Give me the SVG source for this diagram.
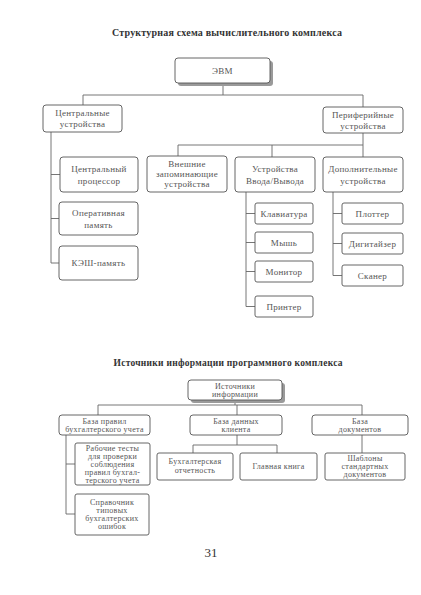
<svg xmlns="http://www.w3.org/2000/svg" width="421" height="595" viewBox="0 0 421 595">
<style>
.b{fill:#fff;stroke:#555;stroke-width:0.9}
.sh{fill:#9a9a9a}
.t{font-family:"Liberation Serif","DejaVu Serif",serif;font-size:9px;fill:#555;text-anchor:middle;letter-spacing:0.3px}
.s{font-family:"Liberation Serif","DejaVu Serif",serif;font-size:8px;fill:#555;text-anchor:middle;letter-spacing:0.3px}
.h{font-family:"Liberation Serif","DejaVu Serif",serif;font-weight:bold;fill:#333;text-anchor:middle}
#c path{fill:none;stroke:#666;stroke-width:0.9}
</style>
<rect width="421" height="595" fill="#fff"/>
<text class="h" x="227" y="36" font-size="10" textLength="230" lengthAdjust="spacing">Структурная схема вычислительного комплекса</text>
<text class="h" x="228" y="366" font-size="9.5" textLength="229" lengthAdjust="spacing">Источники информации программного комплекса</text>
<text x="211" y="557" font-family="Liberation Serif,serif" font-size="13" fill="#333" text-anchor="middle">31</text>
<g id="c">
<path d="M223 83V95M83 95H363M83 95V105M363 95V107"/>
<path d="M51 132V263M51 174.5H60M51 218.5H59M51 263H59"/>
<path d="M363 133V145M178 145H363M178 145V156M272 145V157M363 145V157"/>
<path d="M246 192V306.5M246 213.5H255M246 242.5H255M246 271.5H255M246 306.5H255"/>
<path d="M333 192V275.5M333 213.5H342M333 243.5H342M333 275.5H342"/>
<path d="M235 400V405M98 405H362M98 405V415M237 405V415M362 405V415"/>
<path d="M66 435V514M66 464H75M66 514H75"/>
<path d="M237 435V445M193 445H277M193 445V453M277 445V453"/>
<path d="M362 435V453"/>
</g>
<g id="evm"><rect class="sh" x="178" y="61" width="95" height="25" rx="3"/><rect class="b" x="175" y="58" width="95" height="25" rx="3"/><text class="t" x="222.5" y="74">ЭВМ</text></g>
<g id="central"><rect class="b" x="43" y="105" width="79" height="27" rx="3"/><text class="t" x="82.5" y="116">Центральные</text><text class="t" x="82.5" y="127">устройства</text></g>
<g id="periph"><rect class="b" x="323" y="107" width="80" height="26" rx="3"/><text class="t" x="363" y="118">Периферийные</text><text class="t" x="363" y="129">устройства</text></g>
<g id="cpu"><rect class="b" x="60" y="157" width="78" height="35" rx="3"/><text class="t" x="99" y="172">Центральный</text><text class="t" x="99" y="184">процессор</text></g>
<g id="ram"><rect class="b" x="59" y="202" width="79" height="33" rx="3"/><text class="t" x="98.5" y="216">Оперативная</text><text class="t" x="98.5" y="228">память</text></g>
<g id="cache"><rect class="b" x="59" y="246" width="79" height="34" rx="3"/><text class="t" x="98.5" y="266">КЭШ-память</text></g>
<g id="ext"><rect class="b" x="147" y="156" width="80" height="36" rx="3"/><text class="t" x="187" y="167">Внешние</text><text class="t" x="187" y="177">запоминающие</text><text class="t" x="187" y="187">устройства</text></g>
<g id="io"><rect class="b" x="235" y="157" width="80" height="35" rx="3"/><text class="t" x="275" y="172">Устройства</text><text class="t" x="275" y="184">Ввода/Вывода</text></g>
<g id="add"><rect class="b" x="323" y="157" width="80" height="35" rx="3"/><text class="t" x="363" y="172">Дополнительные</text><text class="t" x="363" y="184">устройства</text></g>
<g id="kbd"><rect class="b" x="255" y="203" width="58" height="21" rx="2"/><text class="t" x="284" y="216.5">Клавиатура</text></g>
<g id="mouse"><rect class="b" x="255" y="232" width="58" height="21" rx="2"/><text class="t" x="284" y="245.5">Мышь</text></g>
<g id="mon"><rect class="b" x="255" y="261" width="58" height="21" rx="2"/><text class="t" x="284" y="274.5">Монитор</text></g>
<g id="prn"><rect class="b" x="255" y="296" width="58" height="21" rx="2"/><text class="t" x="284" y="309.5">Принтер</text></g>
<g id="plot"><rect class="b" x="342" y="203" width="61" height="21" rx="2"/><text class="t" x="372.5" y="216.5">Плоттер</text></g>
<g id="dig"><rect class="b" x="342" y="233" width="61" height="21" rx="2"/><text class="t" x="372.5" y="246.5">Дигитайзер</text></g>
<g id="scan"><rect class="b" x="342" y="265" width="61" height="21" rx="2"/><text class="t" x="372.5" y="278.5">Сканер</text></g>
<g id="src"><rect class="sh" x="191" y="383" width="94" height="20" rx="3"/><rect class="b" x="188" y="380" width="94" height="20" rx="3"/><text class="s" x="235" y="388.5">Источники</text><text class="s" x="235" y="397">информации</text></g>
<g id="rules"><rect class="b" x="59" y="415" width="91" height="20" rx="3"/><text class="s" x="104.5" y="423.5">База правил</text><text class="s" x="104.5" y="432">бухгалтерского учета</text></g>
<g id="client"><rect class="b" x="190" y="415" width="92" height="20" rx="3"/><text class="s" x="236" y="423.5">База данных</text><text class="s" x="236" y="432">клиента</text></g>
<g id="docs"><rect class="b" x="312" y="415" width="96" height="20" rx="3"/><text class="s" x="360" y="423.5">База</text><text class="s" x="360" y="432">документов</text></g>
<g id="tests"><rect class="b" x="75" y="443" width="75" height="42" rx="2"/><text class="s" x="112.5" y="451">Рабочие тесты</text><text class="s" x="112.5" y="459">для проверки</text><text class="s" x="112.5" y="467">соблюдения</text><text class="s" x="112.5" y="475">правил бухгал-</text><text class="s" x="112.5" y="483">терского учета</text></g>
<g id="errors"><rect class="b" x="75" y="494" width="74" height="41" rx="2"/><text class="s" x="112" y="505">Справочник</text><text class="s" x="112" y="513">типовых</text><text class="s" x="112" y="521">бухгалтерских</text><text class="s" x="112" y="529">ошибок</text></g>
<g id="report"><rect class="b" x="157" y="453" width="76" height="27" rx="2"/><text class="s" x="195" y="464">Бухгалтерская</text><text class="s" x="195" y="473">отчетность</text></g>
<g id="ledger"><rect class="b" x="240" y="453" width="77" height="27" rx="2"/><text class="s" x="278.5" y="469">Главная книга</text></g>
<g id="tmpl"><rect class="b" x="325" y="453" width="80" height="27" rx="2"/><text class="s" x="365" y="461">Шаблоны</text><text class="s" x="365" y="469">стандартных</text><text class="s" x="365" y="477">документов</text></g>
</svg>
